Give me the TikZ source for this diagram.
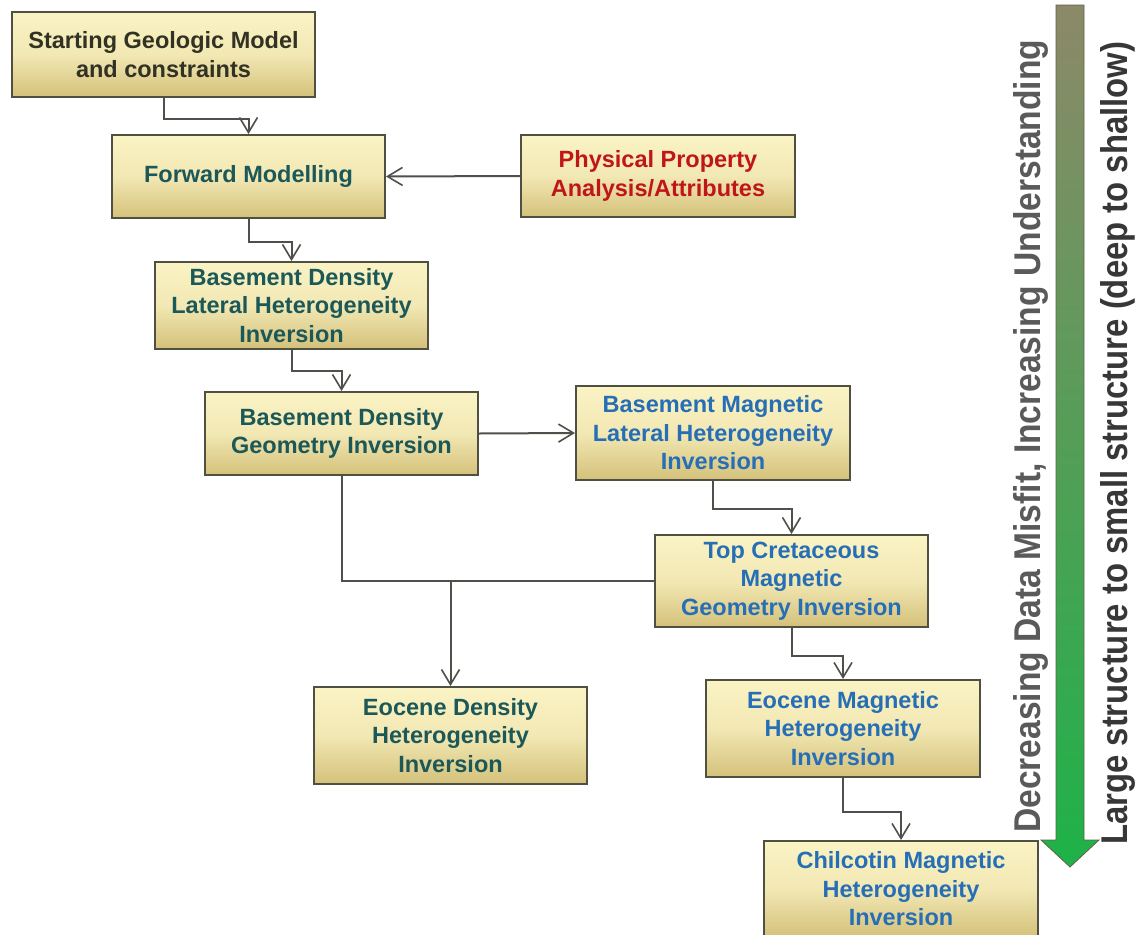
\documentclass[tikz,border=0pt]{standalone}
\usepackage{fontspec}
\usepackage{graphicx}
\setmainfont{Liberation Sans}
\usetikzlibrary{arrows.meta}
\definecolor{linec}{RGB}{80,80,75}
\definecolor{boxborder}{RGB}{80,80,66}
\definecolor{boxtop}{RGB}{250,243,196}
\definecolor{boxmid}{RGB}{242,232,180}
\definecolor{boxbot}{RGB}{212,193,122}
\definecolor{tealtxt}{RGB}{28,88,88}
\definecolor{bluetxt}{RGB}{38,110,182}
\definecolor{redtxt}{RGB}{192,22,26}
\definecolor{darktxt}{RGB}{50,50,36}
\definecolor{arrtop}{RGB}{140,137,104}
\definecolor{arrbot}{RGB}{30,178,72}
\definecolor{sidegray}{RGB}{90,90,90}
\definecolor{sidedark}{RGB}{55,55,55}
\tikzset{
  stage/.style={draw=boxborder, line width=2pt, top color=boxtop, bottom color=boxbot,
    middle color=boxmid, align=center, inner sep=2pt,
    font=\bfseries\fontsize{23.5}{28.5}\selectfont},
  conn/.style={draw=linec, line width=2pt, -{Straight Barb[length=15pt,width=18pt,line width=1.6pt]}},
  plain/.style={draw=linec, line width=2pt}
}
\begin{document}
\begin{tikzpicture}[x=1pt,y=-1pt]
\useasboundingbox (0,0) rectangle (1136,935);
\fill[white] (0,0) rectangle (1136,935);

% boxes
\node[stage, minimum width=303pt, minimum height=85pt, text=darktxt] (start) at (163.5,54.5) {Starting Geologic Model\\and constraints};
\node[stage, minimum width=273pt, minimum height=83pt, text=tealtxt] (fwd) at (248.5,176.5) {Forward Modelling};
\node[stage, minimum width=274pt, minimum height=82pt, text=redtxt] (phys) at (658,176) {Physical Property\\Analysis/Attributes};
\node[stage, minimum width=273pt, minimum height=87pt, text=tealtxt] (bdl) at (291.5,305.5) {Basement Density\\Lateral Heterogeneity\\Inversion};
\node[stage, minimum width=273pt, minimum height=83pt, text=tealtxt] (bdg) at (341.5,433.5) {Basement Density\\Geometry Inversion};
\node[stage, minimum width=274pt, minimum height=94pt, text=bluetxt] (bml) at (713,433) {Basement Magnetic\\Lateral Heterogeneity\\Inversion};
\node[stage, minimum width=273pt, minimum height=92pt, text=bluetxt] (topc) at (791.5,581) {Top Cretaceous\\Magnetic\\Geometry Inversion};
\node[stage, minimum width=273pt, minimum height=97pt, text=tealtxt] (eocd) at (450.5,735.5) {Eocene Density\\Heterogeneity\\Inversion};
\node[stage, minimum width=274pt, minimum height=97pt, text=bluetxt] (eocm) at (843,728.5) {Eocene Magnetic\\Heterogeneity\\Inversion};
\node[stage, minimum width=274pt, minimum height=96pt, text=bluetxt] (chil) at (901,889) {Chilcotin Magnetic\\Heterogeneity\\Inversion};

% connectors
\draw[conn] (start.south) -- ++(0,21) -| (fwd.north);
\draw[conn] (phys.west) -- (fwd.east);
\draw[conn] (fwd.south) -- ++(0,23) -| (bdl.north);
\draw[conn] (bdl.south) -- ++(0,21) -| (bdg.north);
\draw[conn] (bdg.east) -- (bml.west);
\draw[conn] (bml.south) -- ++(0,28) -| (topc.north);
\draw[conn] (topc.south) -- ++(0,28) -| (eocm.north);
\draw[conn] (eocm.south) -- ++(0,34) -| (chil.north);
\draw[plain] (bdg.south) |- (topc.west);
\coordinate (jn) at (eocd.north |- topc.west);
\draw[conn] (jn) -- (eocd.north);

% big arrow
\shade[top color=arrtop, bottom color=arrbot, draw=arrtop!70!black, line width=0.8pt]
  (1056,5) -- (1084,5) -- (1084,840) -- (1099,840) -- (1070,867) -- (1041,840) -- (1056,840) -- cycle;

% side texts
\node[rotate=90, anchor=base west, inner sep=0pt, text=sidegray] (t1) at (1040,833)
  {\resizebox{793pt}{27pt}{\bfseries Decreasing Data Misfit, Increasing Understanding}};
\node[rotate=90, anchor=base west, inner sep=0pt, text=sidedark] (t2) at (1127,845)
  {\resizebox{803pt}{27pt}{\bfseries Large structure to small structure (deep to shallow)}};
\end{tikzpicture}
\end{document}
